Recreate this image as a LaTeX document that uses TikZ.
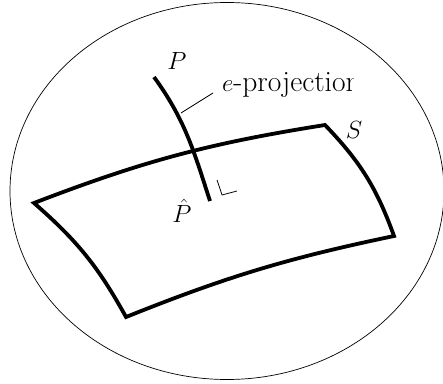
\documentclass[tikz,border=0pt]{standalone}
\usepackage{amsmath,amssymb}
\usepackage{tikz}

\begin{document}
\begin{tikzpicture}[
    x=1pt, y=1pt,
    surf/.style={line width=3.8pt, line join=miter, black},
    thinline/.style={line width=0.8pt, black},
    lbl/.style={font=\fontsize{29.5}{34}\selectfont, inner sep=0pt},
]
\useasboundingbox (0,0) rectangle (443,383);

% ── Ambient space ───────────────────────────────────────────
\draw[line width=0.7pt] (227,192) ellipse [x radius=217, y radius=188.5];

% ── Surface S ───────────────────────────────────────────────
\coordinate (sA) at (34,180);
\coordinate (sB) at (325,258);
\coordinate (sC) at (394,147);
\coordinate (sD) at (126,66);
\draw[surf] (sA) to[bend left=6] (sB) to[bend left=12] (sC)
    to[bend right=5] (sD) to[bend right=10] cycle;
\node[lbl] (labS) at (354,253) {$S$};

% ── Projection curve ────────────────────────────────────────
\coordinate (ptop) at (154,306);
\coordinate (pfoot) at (210,182);
\draw[surf, line cap=butt] (ptop) to[out=-54, in=108] (pfoot);
\node[lbl] (labP) at (177,322) {$P$};
\node[lbl] (labPhat) at (182,172) {$\hat{P}$};

% right-angle mark
\coordinate (ra1) at (217,203);
\coordinate (ra2) at (222,188);
\coordinate (ra3) at (237,192);
\draw[thinline] (ra1) -- (ra2) -- (ra3);

% ── Label ───────────────────────────────────────────────────
\begin{scope}
    \clip (0,0) rectangle (353,383);
    \node[lbl, anchor=base west] (eproj) at (222,291) {$e$-projection};
\end{scope}
\coordinate (lead) at (181,270);
\coordinate (leadend) at (213,290);
\draw[thinline] (lead) -- (leadend);

\end{tikzpicture}
\end{document}
